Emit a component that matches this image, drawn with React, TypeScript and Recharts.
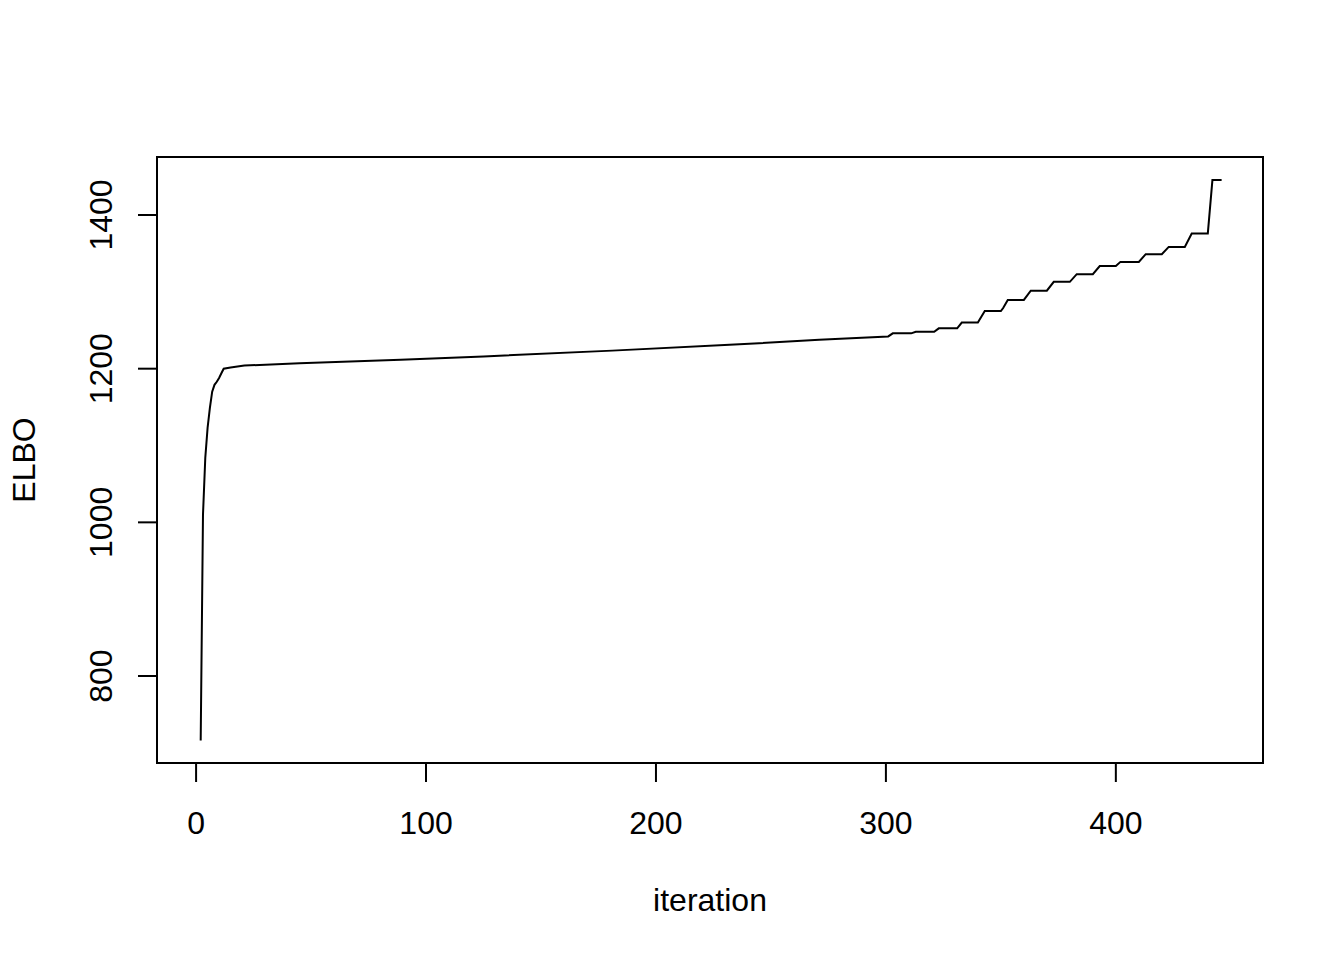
import React from 'react';
import { LineChart, Line, XAxis, YAxis, ReferenceArea } from 'recharts';

// ELBO trace at its break points
const iterations = [
  2, 3, 4, 5, 6, 7, 8, 9, 10, 11, 12, 15, 21, 45, 89, 125, 181, 232, 271,
  301, 303, 311, 313, 321, 323, 331, 333, 340, 343, 350, 351, 353, 360, 363,
  370, 373, 380, 383, 390, 393, 400, 402, 410, 413, 420, 423, 430, 433, 440,
  442, 446,
];
const elbo = [
  716, 1010, 1084, 1123, 1149, 1170, 1179, 1183, 1188, 1194, 1200, 1201.5,
  1204, 1207, 1211.5, 1216, 1223.5, 1231, 1237.5,
  1242, 1246, 1246, 1248, 1248, 1252.5, 1252.5, 1260, 1260, 1275, 1275,
  1279, 1289.5, 1289.5, 1301.5, 1301.5, 1313, 1313, 1323, 1323, 1333.5,
  1333.5, 1339, 1339, 1349, 1349, 1358.5, 1358.5, 1376, 1376, 1445.5, 1445.5,
];

const xTicks = [0, 100, 200, 300, 400];
const yTicks = [800, 1000, 1200, 1400];
const xDomain: [number, number] = [-17, 464];
const yDomain: [number, number] = [686.8, 1475.5];

const data = iterations.map((it, i) => ({ iter: it, elbo: elbo[i] }));

const FONT = '"Liberation Sans", Arial, sans-serif';

const XTick = ({ x, y, payload }: any) => (
  <text x={x} y={y + 52} textAnchor="middle" fontSize={32} fontFamily={FONT} fill="#000">
    {payload.value}
  </text>
);

const YTick = ({ x, y, payload }: any) => {
  const bx = x - 26;
  return (
    <text
      x={bx}
      y={y}
      transform={`rotate(-90 ${bx} ${y})`}
      textAnchor="middle"
      fontSize={32}
      fontFamily={FONT}
      fill="#000"
    >
      {payload.value}
    </text>
  );
};

const XLabel = ({ viewBox }: any) => (
  <text
    x={viewBox.x + viewBox.width / 2}
    y={viewBox.y + 148}
    textAnchor="middle"
    fontSize={32}
    fontFamily={FONT}
    fill="#000"
  >
    iteration
  </text>
);

const YLabel = ({ viewBox }: any) => {
  const bx = 35;
  const cy = viewBox.y + viewBox.height / 2;
  return (
    <text
      x={bx}
      y={cy}
      transform={`rotate(-90 ${bx} ${cy})`}
      textAnchor="middle"
      fontSize={32}
      fontFamily={FONT}
      fill="#000"
    >
      ELBO
    </text>
  );
};

export default function App() {
  return (
    <div style={{ position: 'absolute', left: 0, top: 0, width: 1344, height: 960, background: '#fff' }}>
      <LineChart
        width={1344}
        height={960}
        data={data}
        margin={{ top: 157, right: 81, bottom: 0, left: 0 }}
      >
        <XAxis
          dataKey="iter"
          type="number"
          domain={xDomain}
          ticks={xTicks}
          allowDataOverflow
          height={197}
          axisLine={false}
          tickSize={19}
          tickMargin={0}
          tickLine={{ stroke: '#000', strokeWidth: 2 }}
          tick={<XTick />}
          label={<XLabel />}
        />
        <YAxis
          type="number"
          domain={yDomain}
          ticks={yTicks}
          allowDataOverflow
          width={157}
          axisLine={false}
          tickSize={19}
          tickMargin={0}
          tickLine={{ stroke: '#000', strokeWidth: 2 }}
          tick={<YTick />}
          label={<YLabel />}
        />
        <ReferenceArea
          x1={xDomain[0]}
          x2={xDomain[1]}
          y1={yDomain[0]}
          y2={yDomain[1]}
          fill="none"
          stroke="#000"
          strokeWidth={2}
          ifOverflow="visible"
        />
        <Line
          type="linear"
          dataKey="elbo"
          stroke="#000"
          strokeWidth={2}
          dot={false}
          isAnimationActive={false}
        />
      </LineChart>
    </div>
  );
}
